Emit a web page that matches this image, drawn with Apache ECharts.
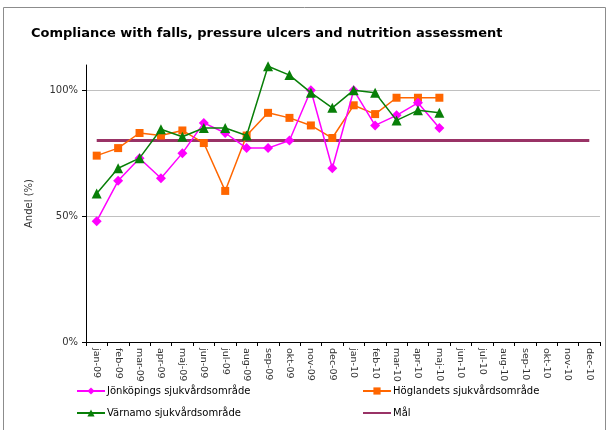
<!DOCTYPE html>
<html>
<head>
<meta charset="utf-8">
<script src="https://cdn.jsdelivr.net/npm/echarts@6/dist/echarts.min.js"></script>
<style>
html,body{margin:0;padding:0;background:#fff;}
#main{width:610px;height:430px;}
</style>
</head>
<body>
<div id="main"></div>
<script>
var months = ['jan-09','feb-09','mar-09','apr-09','maj-09','jun-09','jul-09','aug-09','sep-09','okt-09','nov-09','dec-09',
              'jan-10','feb-10','mar-10','apr-10','maj-10','jun-10','jul-10','aug-10','sep-10','okt-10','nov-10','dec-10'];
// andel (%) per månad
var jonkoping = [48, 64, 73, 65, 75, 87, 83, 77, 77, 80, 100, 69, 100, 86, 90, 95, 85];
var hoglandet = [74, 77, 83, 82, 84, 79, 60, 82, 91, 89, 86, 81, 94, 90.5, 97, 97, 97];
var varnamo   = [59, 69, 73, 84.5, 81.5, 85, 85, 82, 109.5, 106, 99, 93, 100, 99, 88, 92, 91];
var mal       = [80,80,80,80,80,80,80,80,80,80,80,80,80,80,80,80,80,80,80,80,80,80,80,80];
var yTicks = [0, 50, 100];

var myChart = echarts.init(document.getElementById('main'));
var font = 'DejaVu Sans';
var txt = {fontFamily:font, fontSize:10, color:'#000', padding:[0,0,0,-3]};
var lineIcon = 'path://M0,0 L0,0 M0,3.5 L28,3.5 L28,5.5 L0,5.5 Z M28,9 L28,9';

option = {
    animation: false,
    title: {
        text: 'Compliance with falls, pressure ulcers and nutrition assessment',
        left: 26, top: 22,
        textStyle: {fontFamily:font, fontSize:13, fontWeight:'bold', color:'#000'}
    },
    graphic: [{
        type: 'rect', shape: {x:3.5, y:7.5, width:602, height:430},
        style: {fill:'none', stroke:'#8c8c8c', lineWidth:1}, silent: true
    }],
    grid: {left: 86, right: 10, top: 65, bottom: 88},
    legend: [{
        left: 71, top: 381,
        orient: 'vertical',
        itemWidth: 28, itemHeight: 9, itemGap: 12,
        textStyle: txt,
        data: ['Jönköpings sjukvårdsområde', 'Värnamo sjukvårdsområde']
    }, {
        left: 357, top: 381,
        orient: 'vertical',
        itemWidth: 28, itemHeight: 9, itemGap: 12,
        textStyle: txt,
        data: ['Höglandets sjukvårdsområde', {name:'Mål', icon: lineIcon}]
    }],
    xAxis: {
        type: 'category',
        data: months,
        boundaryGap: true,
        axisLine: {lineStyle:{color:'#000', width:1}},
        axisTick: {show:true, length:4, lineStyle:{color:'#000'}},
        axisLabel: {rotate: -90, interval: 0, margin: 6, fontFamily:font, fontSize:9.5, color:'#333'}
    },
    yAxis: {
        type: 'value',
        min: 0, max: 110,
        name: 'Andel (%)',
        nameLocation: 'middle',
        nameGap: 52,
        nameRotate: 90,
        nameTextStyle: {fontFamily:font, fontSize:10, color:'#333'},
        axisLine: {show:true, lineStyle:{color:'#000', width:1}},
        axisTick: {show:true, length:4, customValues: yTicks, lineStyle:{color:'#000'}},
        axisLabel: {customValues: yTicks, formatter: '{value}%', margin: 8, fontFamily:font, fontSize:10, color:'#333'},
        splitLine: {show:true, lineStyle:{color:'#c0c0c0', width:1}}
    },
    series: [
        {
            name: 'Jönköpings sjukvårdsområde', type: 'line', data: jonkoping,
            symbol: 'diamond', symbolSize: 10,
            itemStyle: {color:'#ff00ff'}, lineStyle: {color:'#ff00ff', width:1.5}, z: 4
        },
        {
            name: 'Höglandets sjukvårdsområde', type: 'line', data: hoglandet,
            symbol: 'rect', symbolSize: 8,
            itemStyle: {color:'#ff6600'}, lineStyle: {color:'#ff6600', width:1.5}, z: 3
        },
        {
            name: 'Värnamo sjukvårdsområde', type: 'line', data: varnamo,
            symbol: 'triangle', symbolSize: 10,
            itemStyle: {color:'#087f08'}, lineStyle: {color:'#087f08', width:1.5}, z: 5
        },
        {
            name: 'Mål', type: 'line', data: mal,
            symbol: 'none', clip: false,
            itemStyle: {color:'#993366'}, lineStyle: {color:'#993366', width:3}, z: 2
        }
    ]
};
myChart.setOption(option);
</script>
</body>
</html>
